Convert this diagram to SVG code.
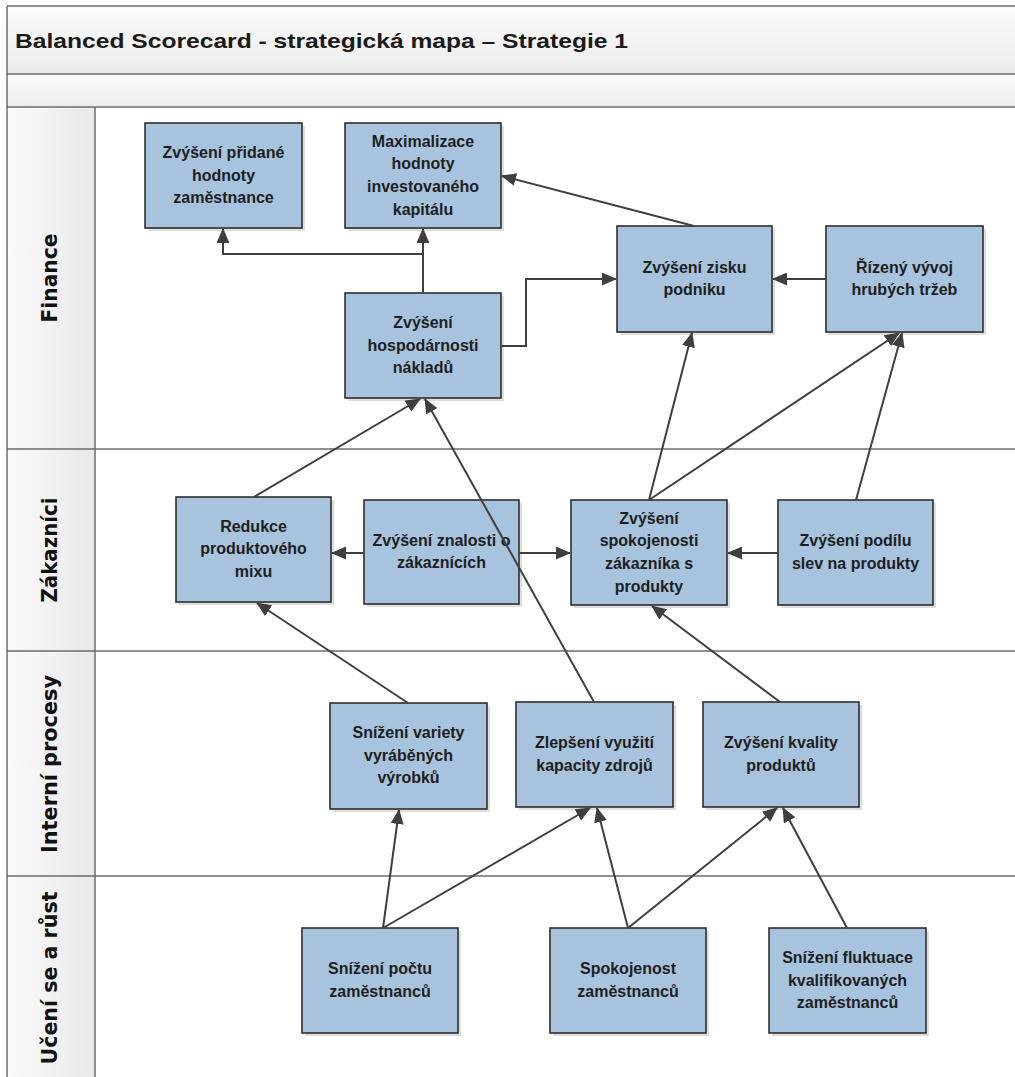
<svg xmlns="http://www.w3.org/2000/svg" width="1015" height="1077" viewBox="0 0 1015 1077">
<defs>
<linearGradient id="band" x1="0" y1="0" x2="0" y2="1"><stop offset="0" stop-color="#fbfbfb"/><stop offset="1" stop-color="#ececec"/></linearGradient>
<linearGradient id="col" x1="0" y1="0" x2="1" y2="0"><stop offset="0" stop-color="#fafafa"/><stop offset="1" stop-color="#e9e9e9"/></linearGradient>
<marker id="ah" markerUnits="userSpaceOnUse" markerWidth="15" markerHeight="13" viewBox="0 0 15 13" refX="14" refY="6.5" orient="auto"><path d="M0,0 L15,6.5 L0,13 z" fill="#3f3f3f"/></marker>
<style>
.frame{stroke:#6b6b6b;stroke-width:1.5;fill:none}
.box{fill:#a7c3dd;stroke:#2e2e2e;stroke-width:1.6}
.sh{fill:#000;opacity:0.13}
.t{font-family:"Liberation Sans",Arial,sans-serif;font-weight:bold;font-size:16px;fill:#1e1e1e;text-anchor:middle}
.lane{font-family:"DejaVu Sans",Verdana,sans-serif;font-weight:bold;font-size:21px;fill:#111;text-anchor:middle}
.title{font-family:"Liberation Sans",Arial,sans-serif;font-weight:bold;font-size:21px;fill:#1a1a1a}
.c{fill:none;stroke:#3f3f3f;stroke-width:2;marker-end:url(#ah)}
</style>
</defs>
<rect x="0" y="0" width="1015" height="1077" fill="#ffffff"/>
<g id="header">
<rect x="7" y="6" width="1015" height="68" fill="url(#band)"/>
<rect x="7" y="74" width="1015" height="33" fill="url(#band)"/>
<text class="title" x="15" y="48" textLength="613" lengthAdjust="spacingAndGlyphs">Balanced Scorecard - strategická mapa – Strategie 1</text>
</g>
<g id="lanes">
<rect x="7" y="107" width="88" height="975" fill="url(#col)"/>
<line class="frame" x1="7" y1="6" x2="1020" y2="6"/>
<line class="frame" x1="7" y1="74" x2="1020" y2="74"/>
<line class="frame" x1="7" y1="107" x2="1020" y2="107"/>
<line class="frame" x1="7" y1="449" x2="1020" y2="449"/>
<line class="frame" x1="7" y1="651" x2="1020" y2="651"/>
<line class="frame" x1="7" y1="876" x2="1020" y2="876"/>
<line class="frame" x1="7" y1="6" x2="7" y2="1080"/>
<line class="frame" x1="95" y1="107" x2="95" y2="1080"/>
<text class="lane" transform="translate(57,278) rotate(-90)" textLength="89" lengthAdjust="spacingAndGlyphs">Finance</text>
<text class="lane" transform="translate(57,550) rotate(-90)" textLength="105" lengthAdjust="spacingAndGlyphs">Zákazníci</text>
<text class="lane" transform="translate(57,764) rotate(-90)" textLength="178" lengthAdjust="spacingAndGlyphs">Interní procesy</text>
<text class="lane" transform="translate(57,978) rotate(-90)" textLength="173" lengthAdjust="spacingAndGlyphs">Učení se a růst</text>
</g>
<g id="n1"><rect class="sh" x="148" y="126" width="157" height="105"/><rect class="box" x="145" y="123" width="157" height="105"/>
<text class="t" x="223.5" y="158">Zvýšení přidané</text><text class="t" x="223.5" y="181">hodnoty</text><text class="t" x="223.5" y="203">zaměstnance</text></g>
<g id="n2"><rect class="sh" x="348" y="126" width="156" height="105"/><rect class="box" x="345" y="123" width="156" height="105"/>
<text class="t" x="423" y="147">Maximalizace</text><text class="t" x="423" y="169">hodnoty</text><text class="t" x="423" y="192">investovaného</text><text class="t" x="423" y="215">kapitálu</text></g>
<g id="n3"><rect class="sh" x="348" y="296" width="156" height="105"/><rect class="box" x="345" y="293" width="156" height="105"/>
<text class="t" x="423" y="328">Zvýšení</text><text class="t" x="423" y="351">hospodárnosti</text><text class="t" x="423" y="373">nákladů</text></g>
<g id="n4"><rect class="sh" x="620" y="229" width="155" height="106"/><rect class="box" x="617" y="226" width="155" height="106"/>
<text class="t" x="694.5" y="273">Zvýšení zisku</text><text class="t" x="694.5" y="295">podniku</text></g>
<g id="n5"><rect class="sh" x="829" y="229" width="157" height="106"/><rect class="box" x="826" y="226" width="157" height="106"/>
<text class="t" x="904.5" y="273">Řízený vývoj</text><text class="t" x="904.5" y="295">hrubých tržeb</text></g>
<g id="n6"><rect class="sh" x="179" y="500" width="155" height="105"/><rect class="box" x="176" y="497" width="155" height="105"/>
<text class="t" x="253.5" y="532">Redukce</text><text class="t" x="253.5" y="554">produktového</text><text class="t" x="253.5" y="577">mixu</text></g>
<g id="n7"><rect class="sh" x="367" y="503" width="155" height="104"/><rect class="box" x="364" y="500" width="155" height="104"/>
<text class="t" x="441.5" y="546">Zvýšení znalosti o</text><text class="t" x="441.5" y="568">zákaznících</text></g>
<g id="n8"><rect class="sh" x="574" y="503" width="156" height="105"/><rect class="box" x="571" y="500" width="156" height="105"/>
<text class="t" x="649" y="524">Zvýšení</text><text class="t" x="649" y="546">spokojenosti</text><text class="t" x="649" y="569">zákazníka s</text><text class="t" x="649" y="592">produkty</text></g>
<g id="n9"><rect class="sh" x="781" y="503" width="155" height="105"/><rect class="box" x="778" y="500" width="155" height="105"/>
<text class="t" x="855.5" y="546">Zvýšení podílu</text><text class="t" x="855.5" y="569">slev na produkty</text></g>
<g id="n10"><rect class="sh" x="333" y="706" width="157" height="106"/><rect class="box" x="330" y="703" width="157" height="106"/>
<text class="t" x="408.5" y="738">Snížení variety</text><text class="t" x="408.5" y="761">vyráběných</text><text class="t" x="408.5" y="783">výrobků</text></g>
<g id="n11"><rect class="sh" x="519" y="705" width="157" height="105"/><rect class="box" x="516" y="702" width="157" height="105"/>
<text class="t" x="594.5" y="748">Zlepšení využití</text><text class="t" x="594.5" y="771">kapacity zdrojů</text></g>
<g id="n12"><rect class="sh" x="706" y="705" width="156" height="105"/><rect class="box" x="703" y="702" width="156" height="105"/>
<text class="t" x="781" y="748">Zvýšení kvality</text><text class="t" x="781" y="771">produktů</text></g>
<g id="n13"><rect class="sh" x="305" y="931" width="156" height="105"/><rect class="box" x="302" y="928" width="156" height="105"/>
<text class="t" x="380" y="974">Snížení počtu</text><text class="t" x="380" y="997">zaměstnanců</text></g>
<g id="n14"><rect class="sh" x="553" y="931" width="156" height="105"/><rect class="box" x="550" y="928" width="156" height="105"/>
<text class="t" x="628" y="974">Spokojenost</text><text class="t" x="628" y="997">zaměstnanců</text></g>
<g id="n15"><rect class="sh" x="772" y="931" width="157" height="105"/><rect class="box" x="769" y="928" width="157" height="105"/>
<text class="t" x="847.5" y="963">Snížení fluktuace</text><text class="t" x="847.5" y="986">kvalifikovaných</text><text class="t" x="847.5" y="1008">zaměstnanců</text></g>
<g id="connectors">
<path class="c" d="M694,226 L502,176"/>
<path class="c" d="M423,293 L423,229"/>
<path class="c" d="M423,254 L223,254 L223,229"/>
<path class="c" d="M501,346 L526,346 L526,279 L616,279"/>
<path class="c" d="M826,279 L773,279"/>
<path class="c" d="M649,500 L692,333"/>
<path class="c" d="M649,500 L899,333"/>
<path class="c" d="M856,500 L902,333"/>
<path class="c" d="M254,497 L420,399"/>
<path class="c" d="M594,702 L425,399"/>
<path class="c" d="M364,553 L332,553"/>
<path class="c" d="M519,553 L570,553"/>
<path class="c" d="M778,553 L728,553"/>
<path class="c" d="M408,703 L257,603"/>
<path class="c" d="M780,702 L652,606"/>
<path class="c" d="M383,928 L399,810"/>
<path class="c" d="M383,928 L590,808"/>
<path class="c" d="M628,928 L597,808"/>
<path class="c" d="M628,928 L777,808"/>
<path class="c" d="M847,928 L783,808"/>
</g>
</svg>
